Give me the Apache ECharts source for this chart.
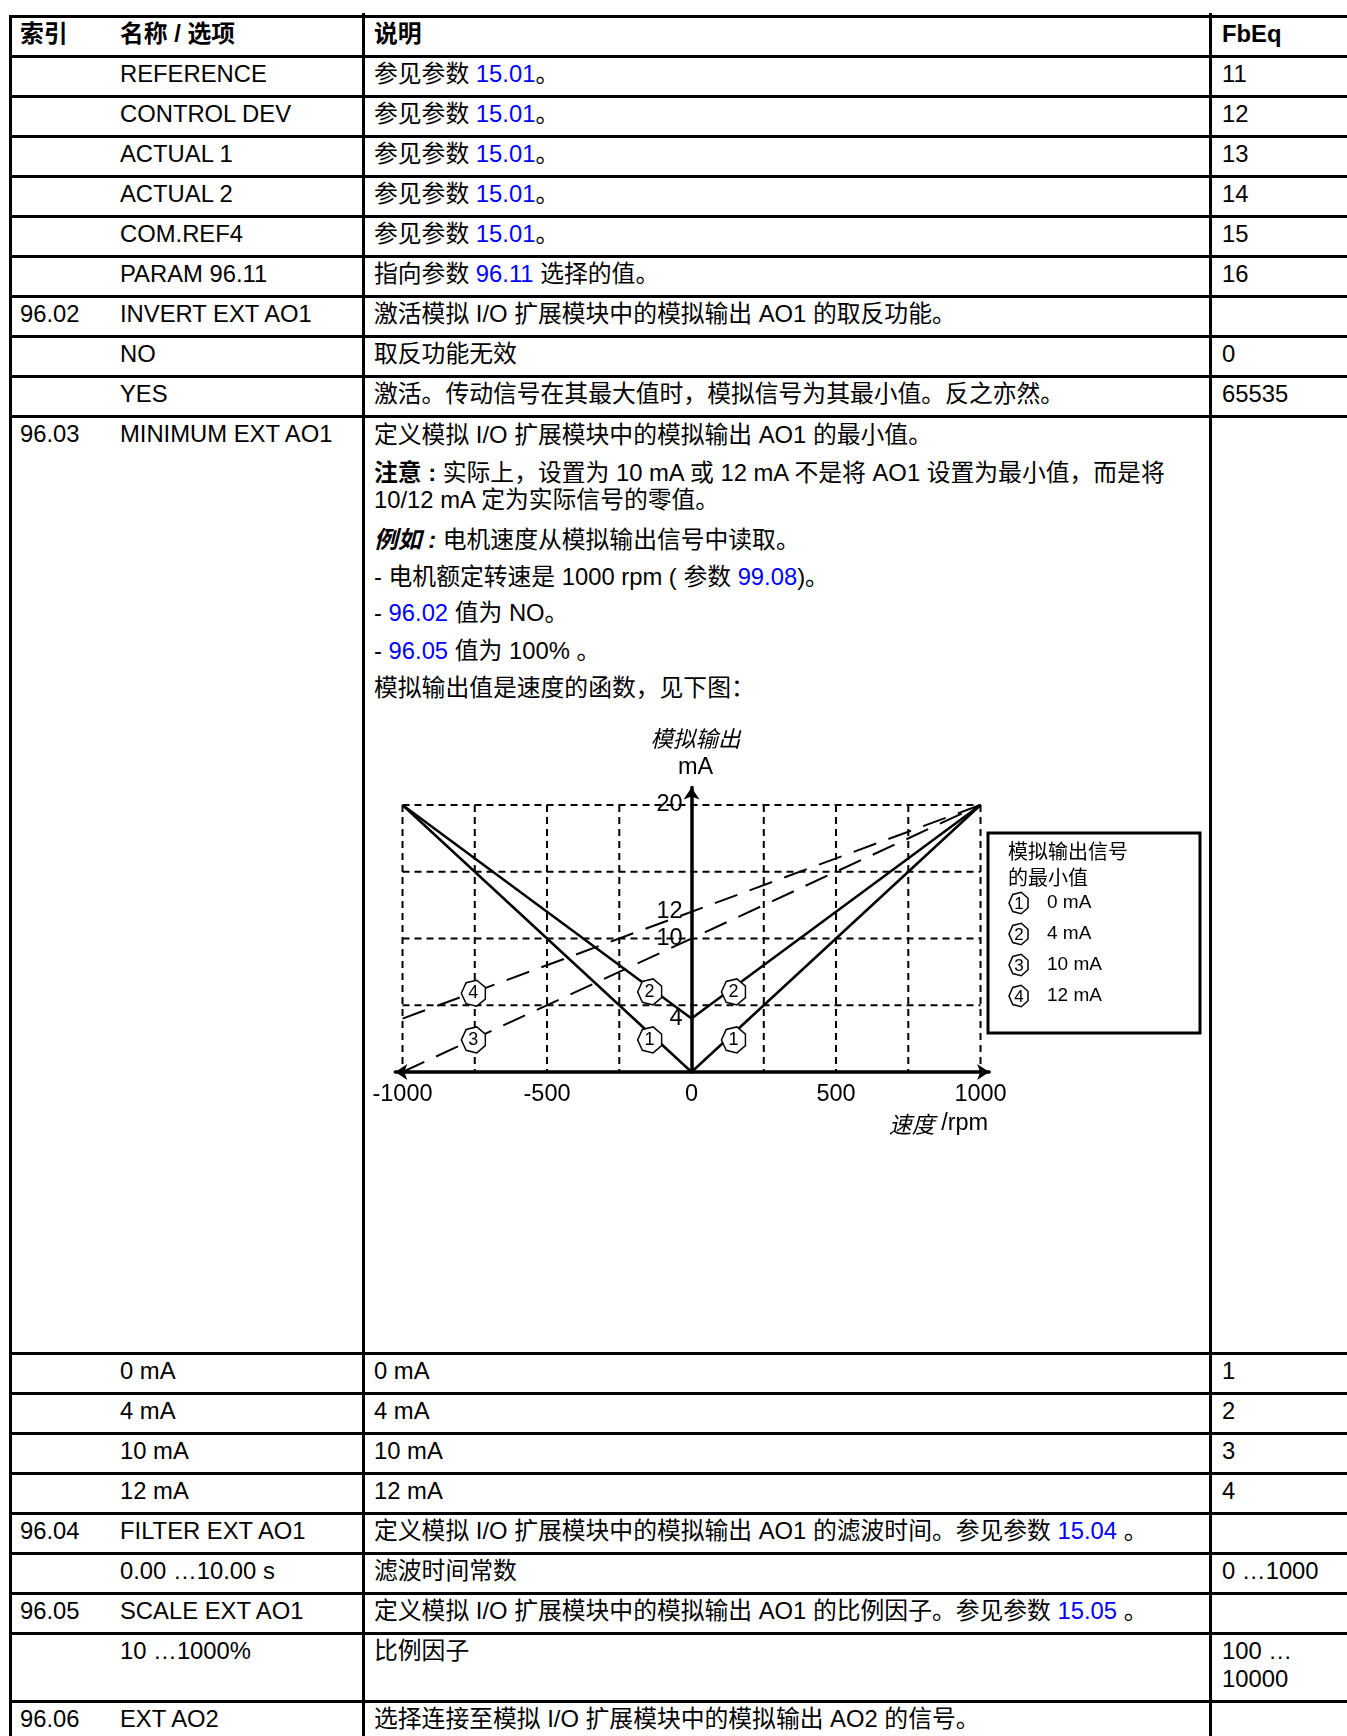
<!DOCTYPE html>
<html><head><meta charset="utf-8">
<script src="https://cdn.jsdelivr.net/npm/echarts@6/dist/echarts.min.js"></script>
<style>
html,body{margin:0;padding:0;background:#fff;}
body{width:1347px;height:1736px;position:relative;overflow:hidden;font-family:"Liberation Sans",Arial,"Noto Sans CJK SC",sans-serif;font-size:23.8px;color:#000;}
.hl{position:absolute;left:8.5px;right:0;height:3px;background:#000;}
.vl{position:absolute;width:3px;background:#000;bottom:0;}
.t{position:absolute;line-height:40px;white-space:nowrap;}
.a{color:#0000ff;}
.b{font-weight:bold;}
#chart{position:absolute;left:0;top:0;width:1347px;height:1736px;}
</style></head><body>
<div id="tbl"></div>
<div id="chart"></div>
<script>
// ---------- table content ----------
const headerCells = ['索引', '名称 / 选项', '说明', 'FbEq'];
const rowIndex = ['', '', '', '', '', '', '96.02', '', '', '96.03', '', '', '', '', '96.04', '', '96.05', '', '96.06'];
const rowName = ['REFERENCE', 'CONTROL DEV', 'ACTUAL 1', 'ACTUAL 2', 'COM.REF4', 'PARAM 96.11', 'INVERT EXT AO1', 'NO', 'YES', 'MINIMUM EXT AO1', '0 mA', '4 mA', '10 mA', '12 mA', 'FILTER EXT AO1', '0.00 …10.00 s', 'SCALE EXT AO1', '10 …1000%', 'EXT AO2'];
const rowDesc = ['参见参数 [15.01]。', '参见参数 [15.01]。', '参见参数 [15.01]。', '参见参数 [15.01]。', '参见参数 [15.01]。', '指向参数 [96.11] 选择的值。', '激活模拟 I/O 扩展模块中的模拟输出 AO1 的取反功能。', '取反功能无效', '激活。传动信号在其最大值时，模拟信号为其最小值。反之亦然。', '', '0 mA', '4 mA', '10 mA', '12 mA', '定义模拟 I/O 扩展模块中的模拟输出 AO1 的滤波时间。参见参数 [15.04] 。', '滤波时间常数', '定义模拟 I/O 扩展模块中的模拟输出 AO1 的比例因子。参见参数 [15.05] 。', '比例因子', '选择连接至模拟 I/O 扩展模块中的模拟输出 AO2 的信号。'];
const rowFbEq = ['11', '12', '13', '14', '15', '16', '', '0', '65535', '', '1', '2', '3', '4', '', '0 …1000', '', '100 …|10000', ''];
const desc9603 = [
  '定义模拟 I/O 扩展模块中的模拟输出 AO1 的最小值。',
  '<span class="b">注意 :</span> 实际上，设置为 10 mA 或 12 mA 不是将 AO1 设置为最小值，而是将',
  '10/12 mA 定为实际信号的零值。',
  '<span class="b" style="font-style:italic">例如 :</span> 电机速度从模拟输出信号中读取。',
  '- 电机额定转速是 1000 rpm ( 参数 [99.08])。',
  '- [96.02] 值为 NO。',
  '- [96.05] 值为 100% 。',
  '模拟输出值是速度的函数，见下图：'
];
const desc9603Y = [435, 473, 500, 540, 577, 613, 651, 688];

// ---------- chart content ----------
const speedLabels = [-1000, -500, 0, 500, 1000];
const mALabels = [4, 10, 12, 20];
const gridSpeeds = [-1000, -750, -500, -250, 250, 500, 750, 1000];
const gridmA = [5, 10, 15, 20];
const minSignalNames = ['0 mA', '4 mA', '10 mA', '12 mA'];
const markerNums = ['1', '2', '3', '4'];
const curve0mA = [[-1000, 20], [0, 0], [1000, 20]];
const curve4mA = [[-1000, 20], [0, 4], [1000, 20]];
const curve10mA = [[-1000, 0], [1000, 20]];
const curve12mA = [[-1000, 4], [1000, 20]];
const marks0mA = [[-145, 2.4], [145, 2.4]];
const marks4mA = [[-145, 6.0], [145, 6.0]];
const marks10mA = [[-755, 2.4]];
const marks12mA = [[-755, 5.9]];

// ---------- table drawing ----------
const rowLines = [16.7, 56.7, 96.7, 136.7, 176.7, 216.7, 256.7, 296.7, 336.7, 376.7, 416.7, 1353.3, 1393.3, 1433.3, 1473.3, 1513.3, 1553.3, 1593.3, 1633.3, 1701.7];
const colX = [20, 120, 374, 1222];
const tbl = document.getElementById('tbl');
function fmt(s) { return s.replace(/\[([^\]]+)\]/g, '<span class="a">$1</span>'); }
function mk(x, yc, html, cls) {
  const d = document.createElement('div');
  d.className = 't' + (cls ? ' ' + cls : '');
  d.style.left = x + 'px'; d.style.top = (yc - 20) + 'px';
  d.innerHTML = html; tbl.appendChild(d);
}
rowLines.forEach(y => { const d = document.createElement('div'); d.className = 'hl'; d.style.top = (y - 1.5) + 'px'; tbl.appendChild(d); });
[[8.5, 15.2], [361.8, 13], [1209.2, 13]].forEach(([x, t]) => { const d = document.createElement('div'); d.className = 'vl'; d.style.left = x + 'px'; d.style.top = t + 'px'; tbl.appendChild(d); });
headerCells.forEach((h, i) => mk(colX[i], rowLines[0] + 17.5, h, 'b'));
rowName.forEach((n, i) => {
  const yc = rowLines[i + 1] + 17.5;
  if (rowIndex[i]) mk(colX[0], yc, rowIndex[i]);
  mk(colX[1], yc, n);
  if (rowDesc[i]) mk(colX[2], yc, fmt(rowDesc[i]));
  if (rowFbEq[i]) rowFbEq[i].split('|').forEach((p, k) => mk(colX[3], yc + 28 * k, p));
});
desc9603.forEach((s, i) => mk(colX[2], desc9603Y[i], fmt(s)));

// ---------- chart ----------
function polyPts(cx, cy, rx, ry, n, rot) {
  const pts = [];
  for (let i = 0; i < n; i++) { const a = rot + i * 2 * Math.PI / n; pts.push([cx + rx * Math.cos(a), cy + ry * Math.sin(a)]); }
  return pts;
}
const hepta = 'path://' + polyPts(50, 50, 50, 50, 7, Math.PI).map((p, i) => (i ? 'L' : 'M') + p[0].toFixed(2) + ' ' + p[1].toFixed(2)).join('') + 'Z';

const chart = echarts.init(document.getElementById('chart'), null, { renderer: 'canvas' });
const black = '#000';
const gridLeft = 395.3, gridRight = 357.8, gridTop = 787.6, gridBottom = 664;
const xMin = -1025, xMax = 1030;
// pixel of speed 0 from the axis extent, used to shift y labels next to the centred y axis
const zeroPx = gridLeft + (0 - xMin) / (xMax - xMin) * (1347 - gridLeft - gridRight);
function lineSeries(data, dashed) {
  return { type: 'line', data: data, symbol: 'none', silent: true, z: 3,
    lineStyle: { color: black, width: dashed ? 2 : 2.5, type: dashed ? [24, 13] : 'solid' } };
}
function markSeries(name, data, num) {
  return { type: 'scatter', name: name, data: data, symbol: hepta, symbolSize: [24, 26], z: 5, silent: true,
    itemStyle: { color: '#fff', borderColor: black, borderWidth: 1.5, opacity: 1 },
    label: { show: true, position: 'inside', formatter: num, color: black, fontSize: 18, fontFamily: 'Liberation Sans' } };
}
const gridDash = { stroke: black, lineWidth: 2, lineDash: [7, 5] };
const legendGraphics = [
  { type: 'rect', shape: { x: 988, y: 833, width: 212, height: 200 }, style: { fill: '#fff', stroke: black, lineWidth: 3 } },
  { type: 'text', x: 1008, y: 851, style: { text: '模拟输出信号', fontSize: 20, fontFamily: 'Noto Sans CJK SC', fill: black, verticalAlign: 'middle' } },
  { type: 'text', x: 1008, y: 877, style: { text: '的最小值', fontSize: 20, fontFamily: 'Noto Sans CJK SC', fill: black, verticalAlign: 'middle' } }
];
const legendY = [903, 934, 965, 996];
minSignalNames.forEach((nm, i) => {
  legendGraphics.push({ type: 'polygon', shape: { points: polyPts(1019, legendY[i], 10, 11, 7, Math.PI) }, style: { fill: '#fff', stroke: black, lineWidth: 1.5 } });
  legendGraphics.push({ type: 'text', x: 1019, y: legendY[i] + 1, style: { text: markerNums[i], fontSize: 17, fontFamily: 'Liberation Sans', fill: black, align: 'center', verticalAlign: 'middle' } });
  legendGraphics.push({ type: 'text', x: 1047, y: legendY[i], style: { text: nm, fontSize: 19, fontFamily: 'Liberation Sans', fill: black, verticalAlign: 'middle' } });
});

chart.setOption({
  animation: false,
  backgroundColor: 'transparent',
  grid: { left: gridLeft, right: gridRight, top: gridTop, bottom: gridBottom, containLabel: false, outerBoundsMode: 'none' },
  xAxis: {
    type: 'value', min: xMin, max: xMax,
    axisLine: { show: true, onZero: true, symbol: ['arrow', 'arrow'], symbolSize: [12, 12], lineStyle: { color: black, width: 3.5 } },
    axisTick: { show: false }, splitLine: { show: false },
    axisLabel: { customValues: speedLabels, formatter: v => String(v), fontSize: 23.5, color: black, margin: 11, fontFamily: 'Liberation Sans', hideOverlap: false },
    name: '{i|速度} /rpm', nameLocation: 'end', nameGap: -1,
    nameTextStyle: { align: 'right', verticalAlign: 'top', padding: [40, 0, 0, 0], fontSize: 23.5, color: black, fontFamily: 'Liberation Sans',
      rich: { i: { fontStyle: 'italic', fontSize: 23, fontFamily: 'Noto Sans CJK SC', color: black } } }
  },
  yAxis: {
    type: 'value', min: 0, max: 21.3,
    axisLine: { show: true, onZero: true, symbol: ['none', 'arrow'], symbolSize: [12, 12], lineStyle: { color: black, width: 3.5 } },
    axisTick: { show: false }, splitLine: { show: false },
    axisLabel: { customValues: mALabels, formatter: v => String(v), fontSize: 23.5, color: black, margin: -(zeroPx - gridLeft) + 9, align: 'right', fontFamily: 'Liberation Sans', hideOverlap: false },
    name: '{i|模拟输出}\n{n|mA}', nameLocation: 'end', nameGap: 6,
    nameTextStyle: { padding: [0, 0, 0, 8], color: black,
      rich: { i: { fontStyle: 'italic', fontSize: 22.5, lineHeight: 29, fontFamily: 'Noto Sans CJK SC', color: black, align: 'center' },
              n: { fontSize: 23.5, lineHeight: 29, fontFamily: 'Liberation Sans', color: black, align: 'center' } } }
  },
  series: [
    { type: 'custom', silent: true, z: 1, data: gridSpeeds.map(v => [v, 0]),
      renderItem: (p, api) => { const s = api.value(0); const a = api.coord([s, gridmA[gridmA.length - 1]]), b = api.coord([s, 0]);
        return { type: 'line', shape: { x1: a[0], y1: a[1], x2: b[0], y2: b[1] }, style: gridDash }; } },
    { type: 'custom', silent: true, z: 1, data: gridmA.map(v => [0, v]),
      renderItem: (p, api) => { const m = api.value(1); const a = api.coord([gridSpeeds[0], m]), b = api.coord([gridSpeeds[gridSpeeds.length - 1], m]);
        return { type: 'line', shape: { x1: a[0], y1: a[1], x2: b[0], y2: b[1] }, style: gridDash }; } },
    lineSeries(curve0mA, false),
    lineSeries(curve4mA, false),
    lineSeries(curve10mA, true),
    lineSeries(curve12mA, true),
    markSeries(minSignalNames[0], marks0mA, markerNums[0]),
    markSeries(minSignalNames[1], marks4mA, markerNums[1]),
    markSeries(minSignalNames[2], marks10mA, markerNums[2]),
    markSeries(minSignalNames[3], marks12mA, markerNums[3])
  ],
  graphic: legendGraphics
});
</script>
</body></html>
